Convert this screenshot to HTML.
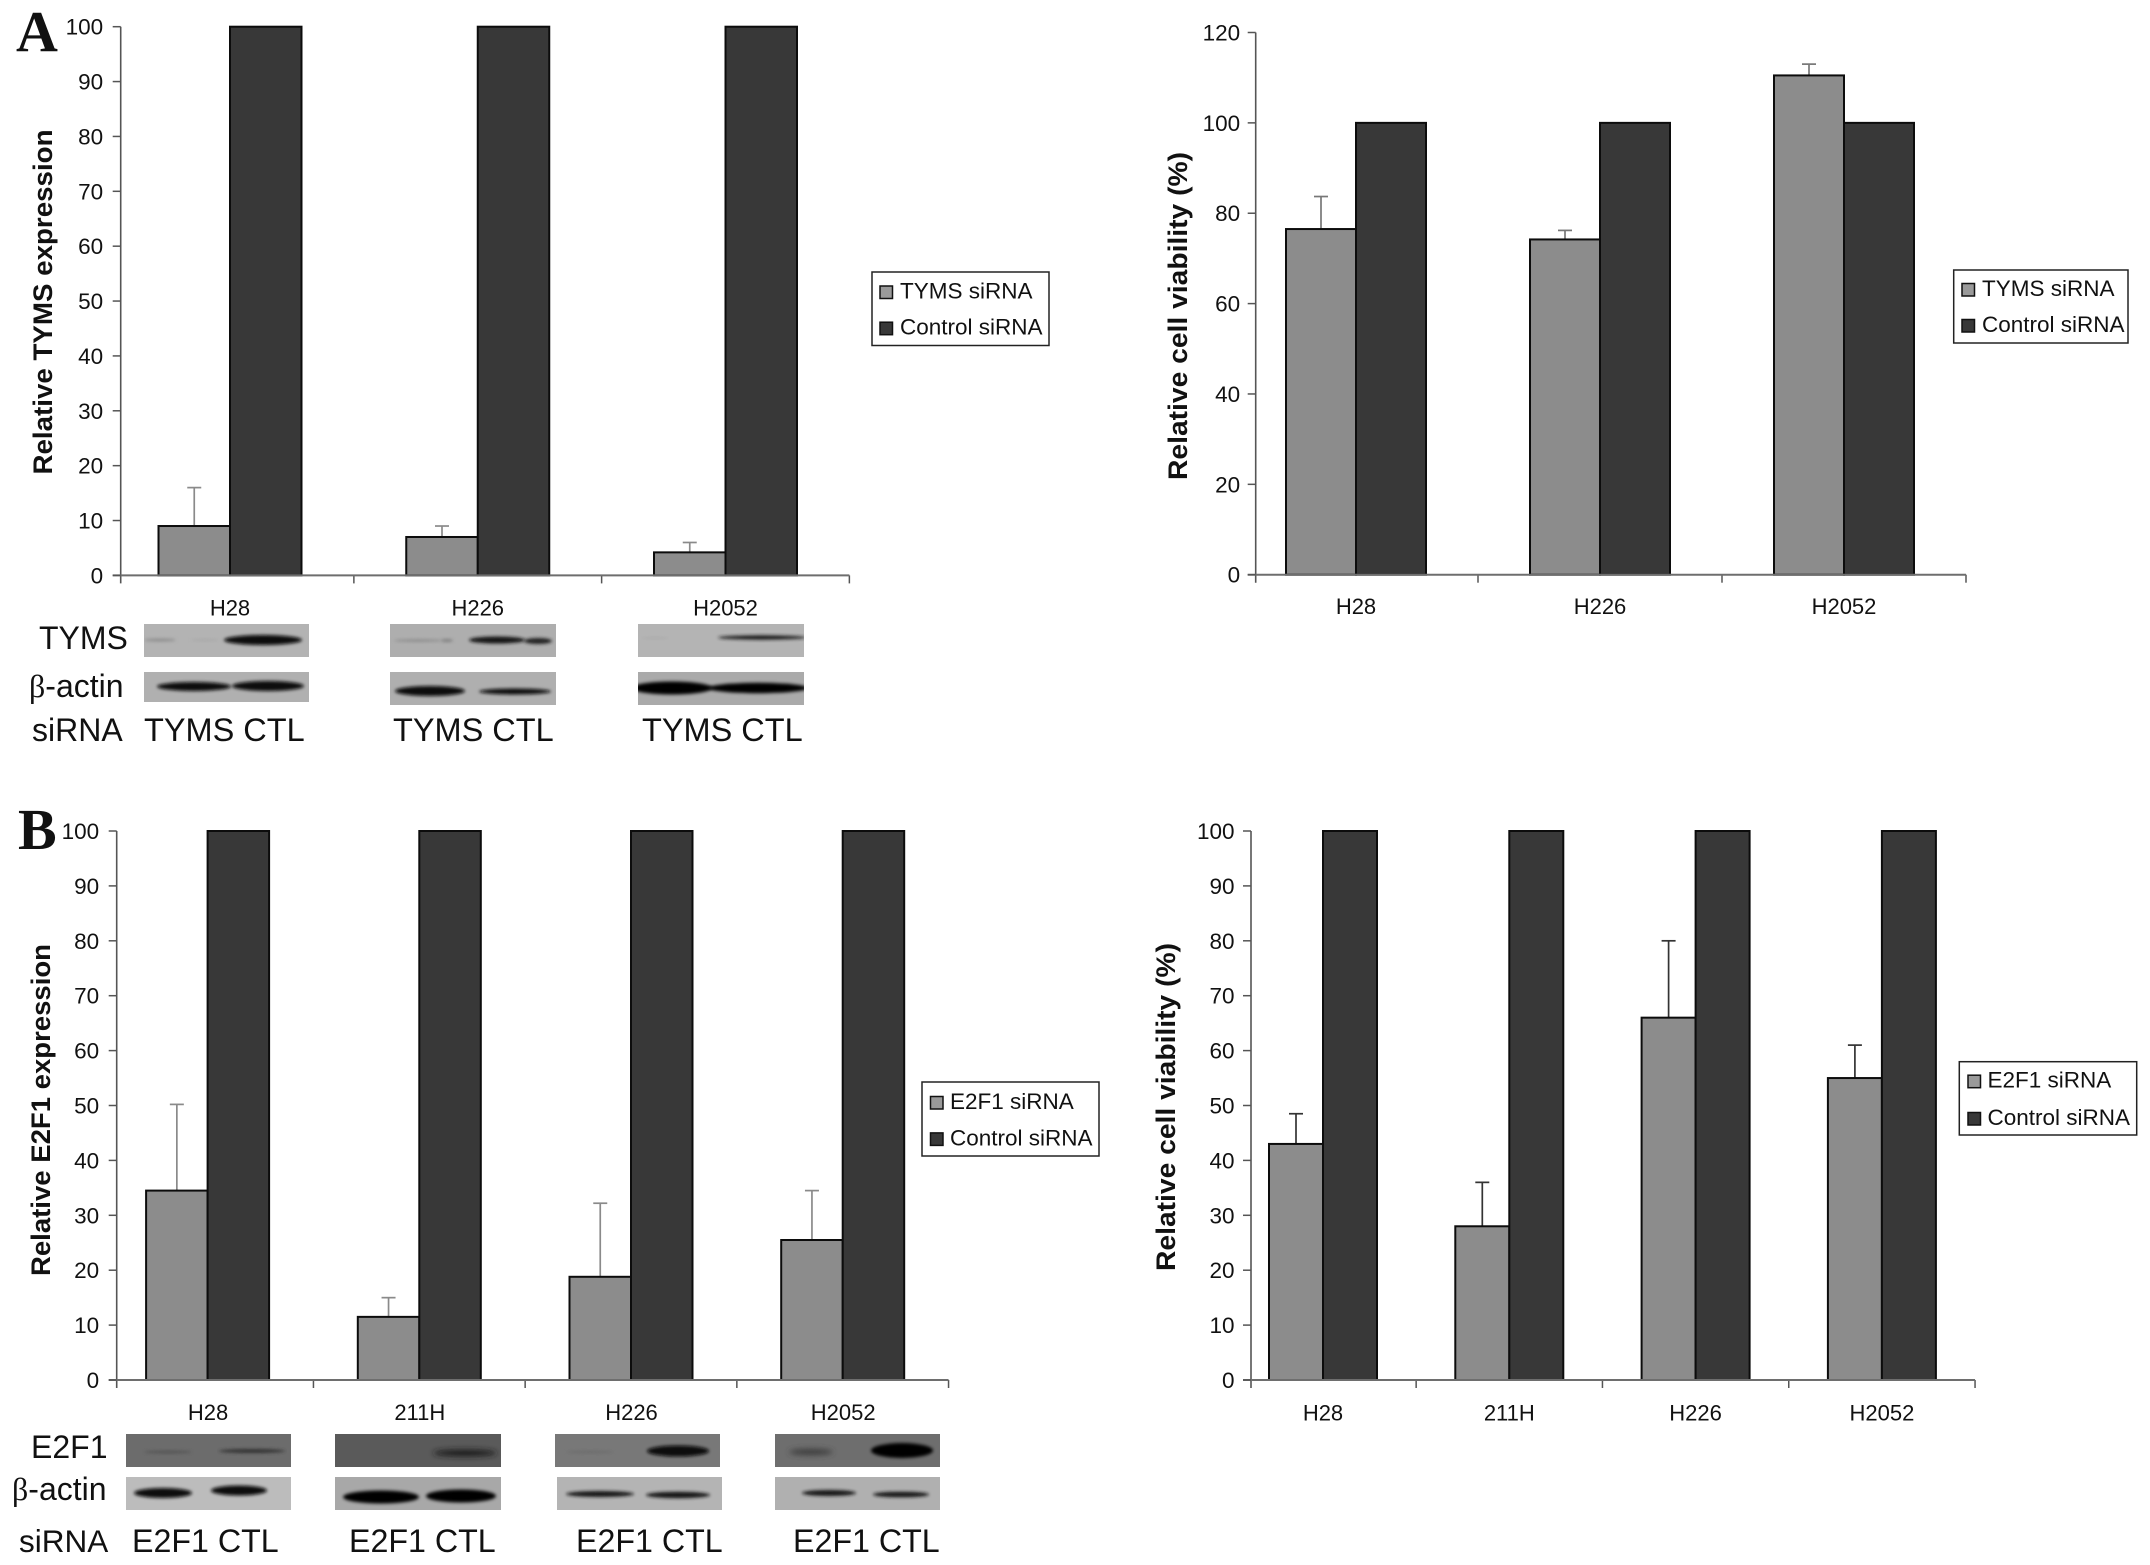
<!DOCTYPE html>
<html lang="en">
<head>
<meta charset="utf-8">
<title>TYMS and E2F1 siRNA knockdown</title>
<style>
html,body{margin:0;padding:0;background:#fff;}
#figure{display:block;width:2150px;height:1565px;}
text{font-family:"Liberation Sans",Arial,sans-serif;fill:#111;}
.serif{font-family:"Liberation Serif","Times New Roman",serif;}
</style>
</head>
<body>
<svg id="figure" xmlns="http://www.w3.org/2000/svg" width="2150" height="1565" viewBox="0 0 2150 1565">
<defs>
<filter id="soft" x="-30%" y="-100%" width="160%" height="300%"><feGaussianBlur stdDeviation="1.6"/></filter>
<filter id="softer" x="-30%" y="-150%" width="160%" height="400%"><feGaussianBlur stdDeviation="3"/></filter>
</defs>
<rect width="2150" height="1565" fill="#fff"/>

<text class="serif" x="16" y="51" font-size="58" font-weight="700" style="font-family:'Liberation Serif',serif">A</text>
<text class="serif" x="18" y="849" font-size="58" font-weight="700" style="font-family:'Liberation Serif',serif">B</text>

<!-- Panel A blots -->
<g>
<svg x="144" y="624" width="165" height="33" viewBox="144 624 165 33"><rect x="144" y="624" width="165" height="33" fill="#b3b3b3"/>
<ellipse cx="160" cy="640" rx="16" ry="1.4" fill="#8a8a8a" filter="url(#soft)"/><ellipse cx="205" cy="640" rx="14" ry="1" fill="#a6a6a6" filter="url(#soft)"/><ellipse cx="263" cy="640" rx="39" ry="5" fill="#080808" filter="url(#soft)"/></svg>
<svg x="144" y="672" width="165" height="30" viewBox="144 672 165 30"><rect x="144" y="672" width="165" height="30" fill="#b0b0b0"/>
<ellipse cx="194" cy="686.5" rx="37" ry="4.5" fill="#0a0a0a" filter="url(#soft)"/><ellipse cx="268" cy="686" rx="36" ry="5" fill="#0a0a0a" filter="url(#soft)"/></svg>
<svg x="390" y="624" width="166" height="33" viewBox="390 624 166 33"><rect x="390" y="624" width="166" height="33" fill="#aeaeae"/>
<ellipse cx="418" cy="640.5" rx="24" ry="1.2" fill="#8a8a8a" filter="url(#soft)"/><ellipse cx="447" cy="640.5" rx="6" ry="1.4" fill="#7a7a7a" filter="url(#soft)"/><ellipse cx="497" cy="640" rx="28" ry="3.5" fill="#141414" filter="url(#soft)"/><ellipse cx="538" cy="641" rx="14" ry="3" fill="#222" filter="url(#soft)"/></svg>
<svg x="390" y="672" width="166" height="33" viewBox="390 672 166 33"><rect x="390" y="672" width="166" height="33" fill="#afafaf"/>
<ellipse cx="430" cy="691" rx="35" ry="5" fill="#0a0a0a" filter="url(#soft)"/><ellipse cx="515" cy="691.5" rx="36" ry="3" fill="#111" filter="url(#soft)"/></svg>
<svg x="638" y="624" width="166" height="33" viewBox="638 624 166 33"><rect x="638" y="624" width="166" height="33" fill="#b4b4b4"/>
<ellipse cx="655" cy="638" rx="14" ry="0.8" fill="#a8a8a8" filter="url(#soft)"/><ellipse cx="762" cy="637.5" rx="44" ry="2.2" fill="#1c1c1c" filter="url(#soft)"/></svg>
<svg x="638" y="672" width="166" height="33" viewBox="638 672 166 33"><rect x="638" y="672" width="166" height="33" fill="#aaaaaa"/>
<ellipse cx="672" cy="688" rx="40" ry="6.5" fill="#050505" filter="url(#soft)"/><ellipse cx="758" cy="688" rx="50" ry="5.2" fill="#050505" filter="url(#soft)"/></svg>
</g>
<text x="39" y="649" font-size="32">TYMS</text>
<text x="29" y="697" font-size="32"><tspan style="font-family:'Liberation Serif',serif">β</tspan>-actin</text>
<text x="32" y="741" font-size="32">siRNA</text>
<text x="144" y="741" font-size="32.5">TYMS CTL</text>
<text x="393" y="741" font-size="32.5">TYMS CTL</text>
<text x="642" y="741" font-size="32.5">TYMS CTL</text>

<!-- Panel B blots -->
<g>
<svg x="126" y="1434" width="165" height="33" viewBox="126 1434 165 33"><rect x="126" y="1434" width="165" height="33" fill="#6c6c6c"/>
<ellipse cx="168" cy="1452" rx="24" ry="1.4" fill="#525252" filter="url(#soft)"/><ellipse cx="252" cy="1451" rx="33" ry="2" fill="#333" filter="url(#soft)"/></svg>
<svg x="126" y="1477" width="165" height="33" viewBox="126 1477 165 33"><rect x="126" y="1477" width="165" height="33" fill="#bcbcbc"/>
<ellipse cx="163" cy="1493" rx="29" ry="5" fill="#0a0a0a" filter="url(#soft)"/><ellipse cx="239" cy="1490.5" rx="28" ry="5" fill="#0a0a0a" filter="url(#soft)"/></svg>
<svg x="335" y="1434" width="166" height="33" viewBox="335 1434 166 33"><rect x="335" y="1434" width="166" height="33" fill="#5a5a5a"/>
<ellipse cx="465" cy="1453" rx="32" ry="3.5" fill="#1e1e1e" filter="url(#softer)"/></svg>
<svg x="335" y="1477" width="166" height="33" viewBox="335 1477 166 33"><rect x="335" y="1477" width="166" height="33" fill="#a8a8a8"/>
<ellipse cx="381" cy="1497" rx="38" ry="6.5" fill="#060606" filter="url(#soft)"/><ellipse cx="461" cy="1496" rx="35" ry="6.5" fill="#060606" filter="url(#soft)"/></svg>
<svg x="555" y="1434" width="165" height="33" viewBox="555 1434 165 33"><rect x="555" y="1434" width="165" height="33" fill="#787878"/>
<ellipse cx="590" cy="1452" rx="24" ry="1.4" fill="#6c6c6c" filter="url(#soft)"/><ellipse cx="678" cy="1451" rx="31" ry="5.5" fill="#070707" filter="url(#soft)"/></svg>
<svg x="557" y="1477" width="165" height="33" viewBox="557 1477 165 33"><rect x="557" y="1477" width="165" height="33" fill="#b4b4b4"/>
<ellipse cx="600" cy="1494" rx="34" ry="3" fill="#151515" filter="url(#soft)"/><ellipse cx="678" cy="1495" rx="32" ry="3.2" fill="#151515" filter="url(#soft)"/></svg>
<svg x="775" y="1434" width="165" height="33" viewBox="775 1434 165 33"><rect x="775" y="1434" width="165" height="33" fill="#6e6e6e"/>
<ellipse cx="811" cy="1452" rx="22" ry="3" fill="#3a3a3a" filter="url(#softer)"/><ellipse cx="902" cy="1450.5" rx="31" ry="7.5" fill="#020202" filter="url(#soft)"/></svg>
<svg x="775" y="1477" width="165" height="33" viewBox="775 1477 165 33"><rect x="775" y="1477" width="165" height="33" fill="#b0b0b0"/>
<ellipse cx="829" cy="1493" rx="27" ry="3" fill="#151515" filter="url(#soft)"/><ellipse cx="901" cy="1494.5" rx="28" ry="2.8" fill="#151515" filter="url(#soft)"/></svg>
</g>
<text x="31" y="1458" font-size="32">E2F1</text>
<text x="12" y="1500" font-size="32"><tspan style="font-family:'Liberation Serif',serif">β</tspan>-actin</text>
<text x="19" y="1552" font-size="31.5">siRNA</text>
<text x="132" y="1552" font-size="32.2">E2F1 CTL</text>
<text x="349" y="1552" font-size="32.2">E2F1 CTL</text>
<text x="576" y="1552" font-size="32.2">E2F1 CTL</text>
<text x="793" y="1552" font-size="32.2">E2F1 CTL</text>

<g id="charts"></g>
</svg>

<script>
// ---- Panel A, left: TYMS expression ----
const tymsExprCategories = ['H28', 'H226', 'H2052'];
const tymsExprSirna = [9, 7, 4.2];
const tymsExprErrorTop = [16, 9, 6];
const tymsExprControl = [100, 100, 100];
const tymsExprTicks = [0, 10, 20, 30, 40, 50, 60, 70, 80, 90, 100];

// ---- Panel A, right: viability ----
const tymsViabCategories = ['H28', 'H226', 'H2052'];
const tymsViabSirna = [76.5, 74.2, 110.5];
const tymsViabErrorTop = [83.7, 76.2, 113];
const tymsViabControl = [100, 100, 100];
const tymsViabTicks = [0, 20, 40, 60, 80, 100, 120];

// ---- Panel B, left: E2F1 expression ----
const e2f1ExprCategories = ['H28', '211H', 'H226', 'H2052'];
const e2f1ExprSirna = [34.5, 11.5, 18.8, 25.5];
const e2f1ExprErrorTop = [50.2, 15, 32.2, 34.5];
const e2f1ExprControl = [100, 100, 100, 100];
const e2f1ExprTicks = [0, 10, 20, 30, 40, 50, 60, 70, 80, 90, 100];

// ---- Panel B, right: viability ----
const e2f1ViabCategories = ['H28', '211H', 'H226', 'H2052'];
const e2f1ViabSirna = [43, 28, 66, 55];
const e2f1ViabErrorTop = [48.5, 36, 80, 61];
const e2f1ViabControl = [100, 100, 100, 100];
const e2f1ViabTicks = [0, 10, 20, 30, 40, 50, 60, 70, 80, 90, 100];

const SVGNS = 'http://www.w3.org/2000/svg';
const root = document.getElementById('charts');

function mk(tag, attrs, parent) {
  const el = document.createElementNS(SVGNS, tag);
  for (const k in attrs) el.setAttribute(k, attrs[k]);
  parent.appendChild(el);
  return el;
}

function drawChart(c) {
  const g = mk('g', {}, root);
  
  

  const yMax = c.ticks[c.ticks.length - 1];
  const y = v => c.y0 - (v / yMax) * (c.y0 - c.yTop);
  const cx = i => c.center0 + i * c.band;
  const right = cx(c.categories.length - 1) + c.band / 2;

  // bars
  c.categories.forEach((cat, i) => {
    // error bar sits behind its bar top
    const ex = cx(i) - c.barW / 2;
    const stem = mk('line', { x1: ex, x2: ex, y1: y(c.sirna[i]), y2: y(c.errTop[i]), stroke: c.errColor, 'stroke-width': 1.7 }, g);
    
    
    const cap = mk('line', { x1: ex - 7, x2: ex + 7, y1: y(c.errTop[i]), y2: y(c.errTop[i]), stroke: c.errColor, 'stroke-width': 1.7 }, g);
    
    

    const b1 = mk('rect', { x: cx(i) - c.barW, y: y(c.sirna[i]), width: c.barW, height: c.y0 - y(c.sirna[i]), fill: '#8c8c8c', stroke: '#0c0c0c', 'stroke-width': 2 }, g);
    
    
    const b2 = mk('rect', { x: cx(i), y: y(c.control[i]), width: c.barW, height: c.y0 - y(c.control[i]), fill: '#383838', stroke: '#0c0c0c', 'stroke-width': 2 }, g);
    
    

    const lab = mk('text', { x: cx(i) + c.labelShift, y: c.labelY, 'font-size': 22, 'text-anchor': 'middle' }, g);
    lab.textContent = cat;
    
    

    const tk = mk('line', { x1: cx(i) + c.band / 2, x2: cx(i) + c.band / 2, y1: c.y0, y2: c.y0 + 8, stroke: '#555', 'stroke-width': 1.5 }, g);
    
    
  });

  // axes
  const ya = mk('line', { x1: c.left, x2: c.left, y1: y(yMax), y2: c.y0 + 8, stroke: '#555', 'stroke-width': 1.6 }, g);
  
  
  const xa = mk('line', { x1: c.left - 8, x2: right, y1: c.y0, y2: c.y0, stroke: '#6e6e6e', 'stroke-width': 2 }, g);
  
  

  // y ticks
  c.ticks.forEach(t => {
    const tk = mk('line', { x1: c.left - 8, x2: c.left, y1: y(t), y2: y(t), stroke: '#555', 'stroke-width': 1.5 }, g);
    
    
    const lab = mk('text', { x: c.left - c.tickGap, y: y(t) + 8, 'font-size': 22.5, 'text-anchor': 'end' }, g);
    lab.textContent = t;
    
    
  });

  // y title
  const tt = mk('text', { x: c.titleX, y: c.titleY, 'font-size': 26.5, 'font-weight': 700, 'text-anchor': 'middle',
    textLength: c.titleLen, lengthAdjust: 'spacingAndGlyphs', transform: 'rotate(-90 ' + c.titleX + ' ' + c.titleY + ')' }, g);
  tt.textContent = c.title;
  
  

  // legend
  const L = c.legend;
  const lg = mk('g', {}, g);
  
  
  mk('rect', { x: L.x, y: L.y, width: L.w, height: L.h, fill: '#fff', stroke: '#222', 'stroke-width': 1.5 }, lg);
  [[c.sirnaName, '#9a9a9a', L.base1], ['Control siRNA', '#383838', L.base2]].forEach(([name, col, base], k) => {
    const sw = mk('rect', { x: L.swatchX, y: base - 12.5, width: 12.5, height: 12.5, fill: col, stroke: '#111', 'stroke-width': 1.5 }, lg);
    
    
    const tx = mk('text', { x: L.textX, y: base, 'font-size': 22.5 }, lg);
    tx.textContent = name;
    
    
  });
}

drawChart({ id: 'tyms-expression', categories: tymsExprCategories, sirna: tymsExprSirna, errTop: tymsExprErrorTop, control: tymsExprControl, ticks: tymsExprTicks,
  left: 120.7, y0: 575.4, yTop: 26.7, center0: 230, band: 247.75, barW: 71.5, errColor: '#8a8a8a', tickGap: 17.5, labelY: 615.5, labelShift: 0,
  title: 'Relative TYMS expression', titleX: 52, titleY: 302, titleLen: 345, sirnaName: 'TYMS siRNA',
  legend: { x: 872, y: 272, w: 177, h: 73.5, swatchX: 880, textX: 900, base1: 298.5, base2: 334.7 } });

drawChart({ id: 'tyms-viability', categories: tymsViabCategories, sirna: tymsViabSirna, errTop: tymsViabErrorTop, control: tymsViabControl, ticks: tymsViabTicks,
  left: 1255.7, y0: 574.7, yTop: 32.5, center0: 1356, band: 244, barW: 70, errColor: '#777', tickGap: 15.5, labelY: 614, labelShift: 0,
  title: 'Relative cell viability (%)', titleX: 1187, titleY: 316, titleLen: 328, sirnaName: 'TYMS siRNA',
  legend: { x: 1953.7, y: 270, w: 174.3, h: 73, swatchX: 1962, textX: 1982, base1: 296, base2: 332 } });

drawChart({ id: 'e2f1-expression', categories: e2f1ExprCategories, sirna: e2f1ExprSirna, errTop: e2f1ExprErrorTop, control: e2f1ExprControl, ticks: e2f1ExprTicks,
  left: 116.7, y0: 1380, yTop: 831, center0: 207.6, band: 211.7, barW: 61.5, errColor: '#8a8a8a', tickGap: 17.5, labelY: 1420, labelShift: 0.5,
  title: 'Relative E2F1 expression', titleX: 50, titleY: 1110, titleLen: 332, sirnaName: 'E2F1 siRNA',
  legend: { x: 922, y: 1082, w: 177, h: 74, swatchX: 930.5, textX: 950, base1: 1109, base2: 1145.4 } });

drawChart({ id: 'e2f1-viability', categories: e2f1ViabCategories, sirna: e2f1ViabSirna, errTop: e2f1ViabErrorTop, control: e2f1ViabControl, ticks: e2f1ViabTicks,
  left: 1251, y0: 1380, yTop: 831, center0: 1323, band: 186.3, barW: 54, errColor: '#333', tickGap: 16.5, labelY: 1420.5, labelShift: 0,
  title: 'Relative cell viability (%)', titleX: 1175, titleY: 1107, titleLen: 328, sirnaName: 'E2F1 siRNA',
  legend: { x: 1959.3, y: 1061.7, w: 177.4, h: 73.3, swatchX: 1968, textX: 1987.5, base1: 1087.7, base2: 1125 } });
</script>
</body>
</html>
